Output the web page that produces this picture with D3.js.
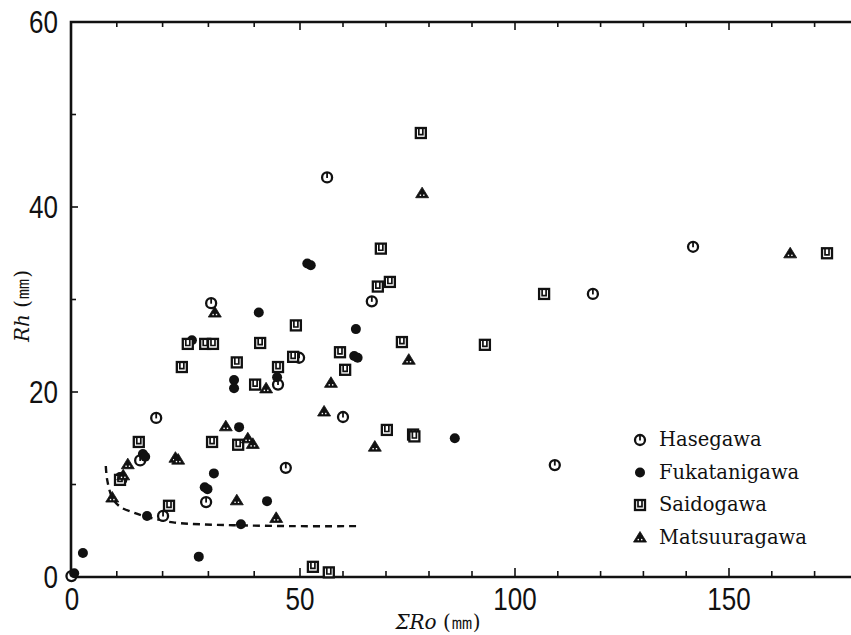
<!DOCTYPE html>
<html>
<head>
<meta charset="utf-8">
<script src="https://cdn.jsdelivr.net/npm/d3@7"></script>
<style>
  body { margin: 0; background: #fff; }
  svg { display: block; }
</style>
</head>
<body>
<div id="chart"></div>
<script>
// values: [ΣRo (mm), Rh (mm)]
const hasegawa = [
  [56.3, 43.2], [141.6, 35.7], [118.2, 30.6], [30.6, 29.6], [66.7, 29.8],
  [49.8, 23.7], [45.2, 20.8], [60.0, 17.3], [18.6, 17.2], [46.9, 11.8],
  [29.5, 8.1], [20.1, 6.6], [15.1, 12.6], [109.3, 12.1], [0.1, 0.1]
];
const fukatanigawa = [
  [41.0, 28.6], [26.4, 25.6], [51.7, 33.9], [52.5, 33.7], [63.0, 26.8],
  [62.6, 23.9], [63.4, 23.7], [45.0, 21.6], [35.6, 21.3], [35.6, 20.4],
  [36.7, 16.2], [31.2, 11.2], [29.2, 9.7], [29.8, 9.5], [42.8, 8.2],
  [16.6, 6.6], [37.1, 5.7], [86.0, 15.0], [2.6, 2.6], [27.9, 2.2],
  [0.7, 0.4], [15.7, 13.3], [16.2, 13.0], [10.7, 10.8], [11.2, 10.5]
];
const saidogawa = [
  [78.1, 48.0], [68.8, 35.5], [68.1, 31.4], [70.9, 31.9], [49.1, 27.2],
  [25.5, 25.2], [29.3, 25.2], [31.0, 25.2], [41.3, 25.3], [59.3, 24.3],
  [73.7, 25.4], [93.0, 25.1], [24.2, 22.7], [36.2, 23.2], [45.2, 22.7],
  [48.5, 23.8], [60.5, 22.4], [40.2, 20.8], [14.8, 14.6], [30.8, 14.6],
  [36.5, 14.3], [70.2, 15.9], [76.3, 15.4], [76.6, 15.2], [21.4, 7.7],
  [10.7, 10.5], [106.8, 30.6], [172.9, 35.0], [53.0, 1.1], [56.7, 0.5]
];
const matsuuragawa = [
  [78.4, 41.5], [164.3, 35.0], [31.4, 28.6], [42.6, 20.4], [33.8, 16.3],
  [38.6, 15.0], [39.7, 14.4], [67.4, 14.1], [55.6, 17.9], [57.2, 21.0],
  [75.3, 23.5], [36.2, 8.3], [44.8, 6.4], [9.0, 8.6], [11.4, 11.0],
  [12.4, 12.2], [22.8, 12.9], [23.4, 12.7]
];
// dashed envelope curve
const envelope = [
  [7.6, 12.0], [7.9, 10.5], [9.0, 8.6], [10.7, 7.6], [14.0, 6.9],
  [16.6, 6.5], [22.3, 5.9], [28.2, 5.7], [35.4, 5.6], [48.5, 5.5], [63.3, 5.5]
];
const legendNames = ["Hasegawa", "Fukatanigawa", "Saidogawa", "Matsuuragawa"];
const yLabels = [0, 20, 40, 60];
const xLabels = [0, 50, 100, 150];

const width = 851, height = 635;
const plotLeft = 71, plotTop = 22, plotBottom = 577;

const svg = d3.select("#chart").append("svg")
  .attr("width", width).attr("height", height)
  .attr("viewBox", [0, 0, width, height]);

// the scanned axis is slightly stretched at the low end
const x = d3.scaleLinear().domain([0, 50, 100, 150]).range([plotLeft, 300, 515, 729]);
const y = d3.scaleLinear().domain([0, 60]).range([plotBottom, plotTop]);

const ink = "#111";

// frame
svg.append("path")
  .attr("d", `M${width + 5},${plotTop}H${plotLeft}V${plotBottom}H${width + 5}`)
  .attr("fill", "none").attr("stroke", ink).attr("stroke-width", 2.6);

// ticks
const xt = d3.range(10, 190, 10);
svg.append("g").selectAll("line").data(xt).join("line")
  .attr("x1", d => x(d)).attr("x2", d => x(d))
  .attr("y1", plotBottom).attr("y2", d => plotBottom - (d % 50 === 0 ? 9 : 6))
  .attr("stroke", ink).attr("stroke-width", 1.6);
svg.append("g").selectAll("line").data(xt).join("line")
  .attr("x1", d => x(d)).attr("x2", d => x(d))
  .attr("y1", plotTop).attr("y2", d => plotTop + (d % 50 === 0 ? 8 : 5))
  .attr("stroke", ink).attr("stroke-width", 1.6);
svg.append("g").selectAll("line").data([10, 20, 30, 40, 50]).join("line")
  .attr("x1", plotLeft).attr("x2", d => plotLeft + (d % 20 === 0 ? 7 : 5))
  .attr("y1", d => y(d)).attr("y2", d => y(d))
  .attr("stroke", ink).attr("stroke-width", 1.6);

// tick labels (condensed sans)
const num = svg.append("g").attr("fill", ink)
  .style("font-family", "'Liberation Sans', Arial, sans-serif")
  .style("font-size", "31px");
num.selectAll("text.y").data(yLabels).join("text")
  .attr("class", "y")
  .attr("text-anchor", "end")
  .attr("transform", d => `translate(58,${y(d) + 11}) scale(0.84,1)`)
  .text(d => d);
num.selectAll("text.x").data(xLabels).join("text")
  .attr("class", "x")
  .attr("text-anchor", "middle")
  .attr("transform", d => `translate(${x(d) + (d === 0 ? 1 : 0)},610) scale(0.84,1)`)
  .text(d => d);

// axis titles
const serif = "'DejaVu Serif', 'Liberation Serif', serif";
svg.append("text")
  .attr("x", 438).attr("y", 629)
  .attr("text-anchor", "middle")
  .style("font-family", serif).style("font-size", "20px").attr("fill", ink)
  .html('<tspan font-style="italic">ΣRo</tspan> (<tspan font-size="22px">㎜</tspan>)');
svg.append("text")
  .attr("transform", "translate(29,306) rotate(-90)")
  .attr("text-anchor", "middle")
  .style("font-family", serif).style("font-size", "20px").attr("fill", ink)
  .html('<tspan font-style="italic">Rh</tspan> (<tspan font-size="22px">㎜</tspan>)');

// envelope
svg.append("path")
  .attr("d", d3.line().x(d => x(d[0])).y(d => y(d[1])).curve(d3.curveCatmullRom)(envelope))
  .attr("fill", "none").attr("stroke", ink).attr("stroke-width", 2.4)
  .attr("stroke-dasharray", "7,5");

// marker drawers
function openCircle(g) {
  g.append("circle").attr("r", 5).attr("fill", "#fff").attr("stroke", ink).attr("stroke-width", 2.3);
  g.append("path").attr("d", "M0,-5V0.5").attr("stroke", ink).attr("stroke-width", 1.8);
}
function dot(g) {
  g.append("circle").attr("r", 5).attr("fill", ink);
}
function square(g) {
  g.append("rect").attr("x", -5).attr("y", -5).attr("width", 10).attr("height", 10)
    .attr("fill", "#fff").attr("stroke", ink).attr("stroke-width", 2.3);
  g.append("path").attr("d", "M-2,-5V1.6H2V-5").attr("fill", "none")
    .attr("stroke", ink).attr("stroke-width", 1.7);
}
function triangle(g) {
  g.append("path").attr("d", "M0,-6L6.5,4.6H-6.5Z").attr("fill", ink)
    .attr("stroke", ink).attr("stroke-width", 0.8).attr("stroke-linejoin", "round");
  g.append("rect").attr("x", -2.4).attr("y", 1.4).attr("width", 1.4).attr("height", 1.4).attr("fill", "#fff");
  g.append("rect").attr("x", 1).attr("y", 1.4).attr("width", 1.4).attr("height", 1.4).attr("fill", "#fff");
}

const series = [
  { data: hasegawa, draw: openCircle },
  { data: fukatanigawa, draw: dot },
  { data: saidogawa, draw: square },
  { data: matsuuragawa, draw: triangle }
];

const plot = svg.append("g");
series.forEach(s => {
  plot.append("g").selectAll("g").data(s.data).join("g")
    .attr("transform", d => `translate(${x(d[0])},${y(d[1])})`)
    .each(function () { s.draw(d3.select(this)); });
});

// legend
const legend = svg.append("g").attr("transform", "translate(640,440)");
legendNames.forEach((name, i) => {
  const row = legend.append("g").attr("transform", `translate(0,${i * 32.5})`);
  series[i].draw(row);
  row.append("text")
    .attr("x", 19).attr("y", 6)
    .style("font-family", serif).style("font-size", "19.5px").attr("fill", ink)
    .text(name);
});
</script>
</body>
</html>
